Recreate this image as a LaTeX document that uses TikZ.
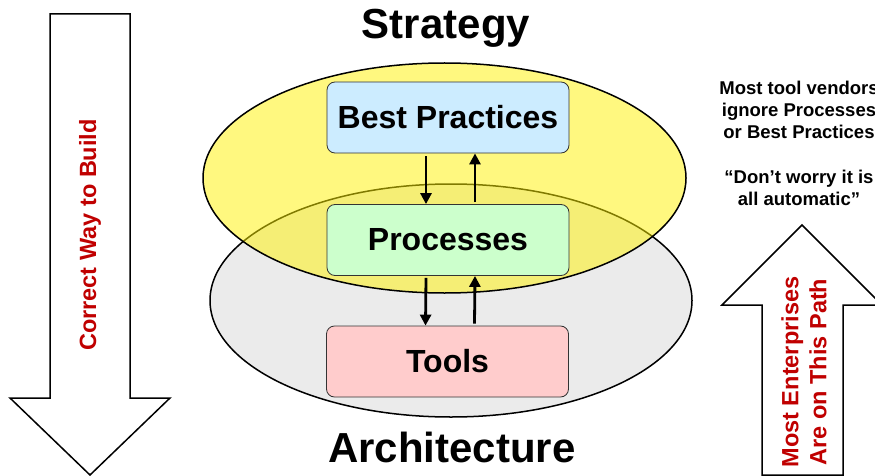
\documentclass[tikz,border=0pt]{standalone}
\usepackage{fontspec}
\setmainfont{Liberation Sans}
\usetikzlibrary{arrows.meta}
\definecolor{redtxt}{HTML}{C00000}
\definecolor{grayfill}{HTML}{EBEBEB}
\definecolor{bpfill}{HTML}{CCECFF}
\definecolor{prfill}{HTML}{CCFFCC}
\definecolor{tlfill}{HTML}{FFCCCC}
\begin{document}
\begin{tikzpicture}[x=1pt,y=-1pt,
  bigarrow/.style={draw=black, line width=1.5pt, fill=white, line join=miter},
  layerbox/.style={draw=black!80, line width=0.8pt, rounded corners=8pt,
    minimum width=242pt, minimum height=71pt,
    font=\bfseries\fontsize{32}{36}\selectfont},
  flow/.style={line width=2.8pt, -{Triangle[length=11pt,width=11pt]}},
  title/.style={font=\bfseries\fontsize{42}{48}\selectfont},
  note/.style={align=center, font=\bfseries\fontsize{18.5}{22}\selectfont},
  redlbl/.style={rotate=90, align=center, text=redtxt, font=\bfseries\fontsize{23.5}{28}\selectfont}]
\useasboundingbox (0,0) rectangle (875,476);
\clip (0,0) rectangle (875,476);
% left arrow
\draw[bigarrow] (50,14) -- (130,14) -- (130,398) -- (170,398) -- (90,475) -- (10,398) -- (50,398) -- cycle;
\node[redlbl] (lefttxt) at (90,235) {Correct Way to Build};
% right arrow
\draw[bigarrow] (762,475) -- (762,305) -- (722,305) -- (802,225) -- (882,305) -- (843,305) -- (843,475) -- cycle;
\node[redlbl] (righttxt) at (804,372) {Most Enterprises\\Are on This Path};
% notes
\node[note] (note1) at (799,110) {Most tool vendors\\ignore Processes\\or Best Practices};
\node[note] (note2) at (799,187.5) {“Don’t worry it is\\all automatic”};
% titles
\node[title] (strat) at (446,28) {Strategy};
\node[title] (arch) at (452,447) {Architecture};
% ellipses
\draw[fill=grayfill, line width=1.5pt] (451,300.5) ellipse [x radius=241pt, y radius=116.5pt];
\draw[fill=yellow, fill opacity=0.5, line width=1.5pt] (444.5,178) ellipse [x radius=241.5pt, y radius=115pt];
% boxes
\node[layerbox, fill=bpfill] (bp) at (448,117.5) {Best Practices};
\node[layerbox, fill=prfill] (proc) at (448,240) {Processes};
\node[layerbox, fill=tlfill] (tools) at (447.5,361.5) {Tools};
% connectors
\draw[flow] ([xshift=-22pt,yshift=-3pt]bp.south) -- ([xshift=-22pt]proc.north);
\draw[flow] ([xshift=27pt,yshift=2pt]proc.north) -- ([xshift=27pt]bp.south);
\draw[flow] ([xshift=-22pt,yshift=-2pt]proc.south) -- ([xshift=-22pt]tools.north);
\draw[flow] ([xshift=27pt,yshift=2pt]tools.north) -- ([xshift=27pt]proc.south);
\end{tikzpicture}
\end{document}
